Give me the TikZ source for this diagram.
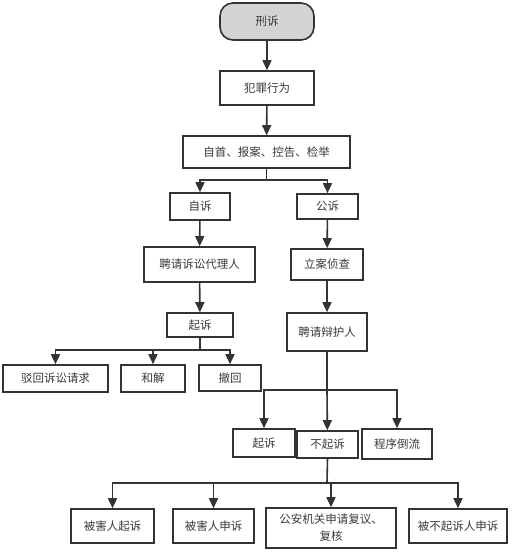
\documentclass[tikz,border=0pt]{standalone}
\usepackage{fontspec}
\setmainfont{Noto Sans CJK SC}
\usetikzlibrary{arrows.meta}
\definecolor{ln}{HTML}{333333}
\definecolor{tx}{HTML}{3A3A3A}
\definecolor{startfill}{HTML}{D3D3D3}
\begin{document}
\begin{tikzpicture}[x=1pt,y=-1pt,
  box/.style={draw=ln,line width=1.6pt,fill=white,text=tx,font=\fontsize{11.5}{14}\selectfont,inner sep=0pt,anchor=center},
  arr/.style={draw=ln,line width=1.6pt,-{Triangle[length=10pt,width=9pt]}},
  ln/.style={draw=ln,line width=1.6pt}]
\useasboundingbox (0,0) rectangle (519,552);
% nodes
\node[box,fill=startfill,rounded corners=13pt,minimum width=94pt,minimum height=37pt] (start) at (267,21.5) {刑诉};
\node[box,minimum width=94pt,minimum height=34pt] (fz) at (267,88) {犯罪行为};
\node[box,minimum width=167pt,minimum height=32pt] (zs) at (266.5,152) {自首、报案、控告、检举};
\node[box,minimum width=60pt,minimum height=27pt] (zisu) at (200,206.5) {自诉};
\node[box,minimum width=61pt,minimum height=25pt] (gongsu) at (327.5,206.5) {公诉};
\node[box,minimum width=111pt,minimum height=35pt] (pq) at (199.5,264.5) {聘请诉讼代理人};
\node[box,minimum width=72pt,minimum height=31pt] (la) at (327,264.5) {立案侦查};
\node[box,minimum width=66pt,minimum height=24pt] (qs1) at (200,325) {起诉};
\node[box,minimum width=80pt,minimum height=38pt] (bh) at (327,332) {聘请辩护人};
\node[box,minimum width=105pt,minimum height=27pt] (bo) at (55.5,378.5) {驳回诉讼请求};
\node[box,minimum width=64pt,minimum height=27pt] (hj) at (153,378.5) {和解};
\node[box,minimum width=62pt,minimum height=26pt] (ch) at (230,378) {撤回};
\node[box,minimum width=62pt,minimum height=28pt] (qs2) at (264,443) {起诉};
\node[box,minimum width=61pt,minimum height=27pt] (bqs) at (327.5,444.5) {不起诉};
\node[box,minimum width=70pt,minimum height=30pt] (cx) at (397,444) {程序倒流};
\node[box,minimum width=83pt,minimum height=34pt] (b1) at (112.5,526) {被害人起诉};
\node[box,minimum width=81pt,minimum height=34pt] (b2) at (213.5,526) {被害人申诉};
\node[box,minimum width=130pt,minimum height=40pt,align=center,font=\fontsize{11.5}{17}\selectfont] (b3) at (331,528) {公安机关申请复议、\\复核};
\node[box,minimum width=98pt,minimum height=34pt] (b4) at (458,526) {被不起诉人申诉};
% junctions
\coordinate (j1) at (266.5,180);
\coordinate (j2) at (200,350);
\coordinate (j3) at (327,390);
\coordinate (j4) at (327,483);
% connectors
\draw[arr] (start) -- (fz);
\draw[arr] (fz) -- (zs);
\draw[ln] (zs.south) -- (j1);
\draw[arr] (j1) -| (zisu);
\draw[arr] (j1) -| (gongsu);
\draw[arr] (zisu) -- (pq);
\draw[arr] (pq) -- (qs1);
\draw[arr] (gongsu) -- (la);
\draw[arr] (la) -- (bh);
\draw[ln] (qs1.south) -- (j2);
\draw[arr] (j2) -| (bo);
\draw[arr] (j2) -| (hj);
\draw[arr] (j2) -| (ch);
\draw[ln] (bh.south) -- (j3);
\draw[arr] (j3) -| (qs2);
\draw[arr] (j3) -- (bqs);
\draw[arr] (j3) -| (cx);
\draw[ln] (bqs.south) -- (j4);
\draw[arr] (j4) -| (b1);
\draw[arr] (j4) -| (b2);
\draw[arr] (j4) -| (b3);
\draw[arr] (j4) -| (b4);
\end{tikzpicture}
\end{document}
